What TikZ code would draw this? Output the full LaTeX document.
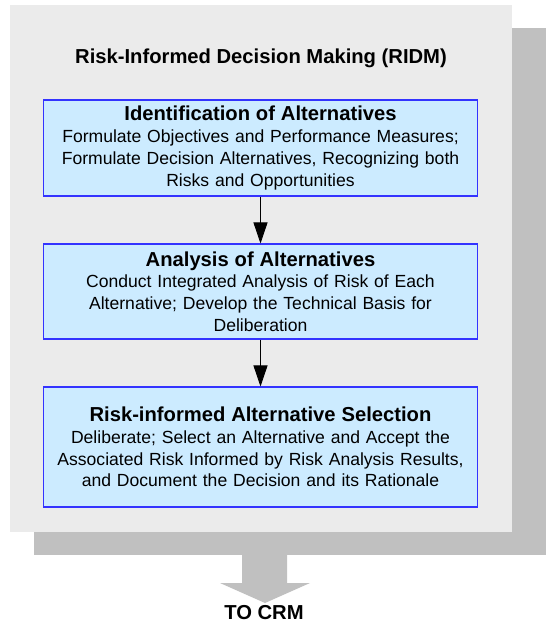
\documentclass[tikz,border=0pt]{standalone}
\usepackage{fontspec}
\setmainfont{Liberation Sans}
\usetikzlibrary{arrows.meta,positioning}

\definecolor{pannello}{HTML}{EBEBEB}
\definecolor{ombra}{HTML}{C0C0C0}
\definecolor{riempi}{HTML}{CCEBFF}
\definecolor{bordo}{HTML}{3333FF}

\tikzset{
  fase/.style={draw=bordo, fill=riempi, line width=0.6pt, text width=8.6cm,
    align=center, minimum width=8.7cm, inner sep=0pt,
    font=\fontsize{10}{12.4}\selectfont},
  titfase/.style={font=\fontsize{11.5}{13.5}\selectfont\bfseries},
  freccia/.style={-{Triangle[length=12pt,width=8pt]}, line width=0.5pt}
}

\begin{document}
\begin{tikzpicture}[x=0.02cm,y=-0.02cm]
    \useasboundingbox (0,0) rectangle (546,625);

    % ombra e pannello
    \fill[ombra] (34,28) rectangle (546,555);
    \fill[pannello] (10,5) rectangle (512,532);

    % titolo
    \node[titfase] (titolo) at (261,58)
        {Risk-Informed Decision Making (RIDM)};

    % le tre fasi
    \node[fase, minimum height=1.92cm] (ident) at (260.5,148)
        {{\fontsize{11.5}{13.5}\selectfont\bfseries Identification of Alternatives}\\
         Formulate Objectives and Performance Measures;\\
         Formulate Decision Alternatives, Recognizing both\\
         Risks and Opportunities};
    \node[fase, minimum height=1.9cm] (analisi) at (260.5,291.5)
        {{\fontsize{11.5}{13.5}\selectfont\bfseries Analysis of Alternatives}\\
         Conduct Integrated Analysis of Risk of Each\\
         Alternative; Develop the Technical Basis for\\
         Deliberation};
    \node[fase, minimum height=2.4cm] (scelta) at (260.5,447)
        {{\fontsize{11.5}{13.5}\selectfont\bfseries Risk-informed Alternative Selection}\\
         Deliberate; Select an Alternative and Accept the\\
         Associated Risk Informed by Risk Analysis Results,\\
         and Document the Decision and its Rationale};

    % frecce
    \draw[freccia] (ident) -- (analisi);
    \draw[freccia] (analisi) -- (scelta);

    % uscita verso CRM
    \fill[ombra] (242,555) -- (242,583) -- (220,583) -- (265,603)
        -- (310,583) -- (287,583) -- (287,555) -- cycle;
    \node[titfase] (crm) at (264,613) {TO CRM};
\end{tikzpicture}
\end{document}
